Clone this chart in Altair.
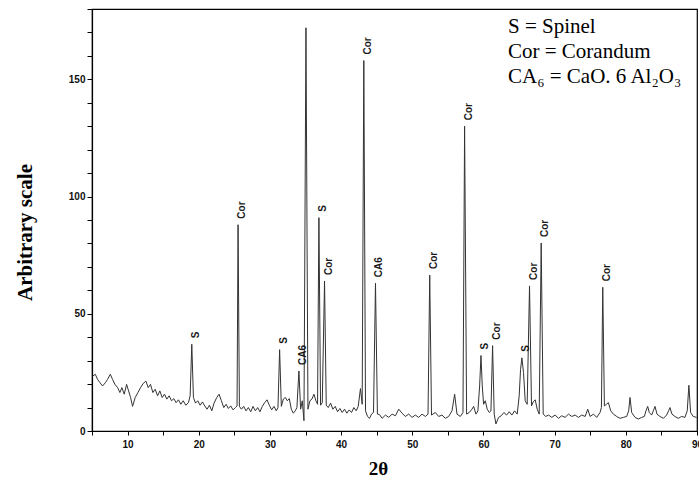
import altair as alt
import pandas as pd

# ---- XRD trace (2theta, intensity) ----
two_theta = [
    5.09, 5.46, 5.79, 6.12, 6.49, 6.87, 7.19, 7.57, 7.89, 8.22, 8.60, 8.92, 9.20, 9.53, 9.86,
    10.14, 10.42, 10.70, 11.07, 11.45, 11.82, 12.20, 12.57, 12.90, 13.22, 13.55, 13.88, 14.21,
    14.53, 14.86, 15.19, 15.51, 15.84, 16.17, 16.50, 16.82, 17.15, 17.48, 17.81, 18.18, 18.55,
    18.79, 19.02, 19.25, 19.54, 19.86, 20.19, 20.52, 20.84, 21.17, 21.50, 21.83, 22.15, 22.53,
    22.85, 23.18, 23.51, 23.84, 24.16, 24.49, 24.82, 25.15, 25.38, 25.52, 25.71, 25.99, 26.31,
    26.64, 26.97, 27.30, 27.62, 27.95, 28.28, 28.60, 28.93, 29.26, 29.59, 29.91, 30.24, 30.57,
    30.89, 31.13, 31.36, 31.60, 31.88, 32.16, 32.44, 32.72, 33.00, 33.28, 33.56, 33.79, 34.07,
    34.31, 34.54, 34.78, 35.06, 35.34, 35.62, 35.90, 36.18, 36.46, 36.69, 36.88, 37.11, 37.35,
    37.67, 37.91, 38.19, 38.52, 38.84, 39.17, 39.50, 39.83, 40.15, 40.48, 40.81, 41.13, 41.46,
    41.79, 42.12, 42.40, 42.72, 42.96, 43.19, 43.43, 43.71, 43.99, 44.27, 44.55, 44.83,
    45.10, 45.40, 45.76, 46.23, 46.69, 47.16, 47.63, 48.10, 48.56, 49.03, 49.50, 49.97, 50.43,
    50.90, 51.37, 51.84, 52.21, 52.45, 52.70, 53.24, 53.71, 54.17, 54.64, 55.11, 55.58, 55.95,
    56.28, 56.75, 57.12, 57.35, 57.63, 58.01, 58.38, 58.62, 58.94, 59.22, 59.46, 59.65, 59.83,
    60.02, 60.25, 60.53, 60.81, 61.05, 61.28, 61.51, 61.75, 62.12, 62.50, 62.87, 63.25, 63.62,
    63.99, 64.37, 64.74, 65.02, 65.21, 65.40, 65.63, 65.86, 66.14, 66.47, 66.75, 66.98, 67.27,
    67.55, 67.83, 68.11, 68.39, 68.76, 69.14, 69.60, 70.07, 70.54, 71.00, 71.47, 71.94, 72.41,
    72.88, 73.34, 73.81, 74.28, 74.65, 74.98, 75.45, 75.91, 76.38, 76.57, 76.76, 76.99, 77.27,
    77.55, 77.88, 78.25, 78.72, 79.19, 79.65, 80.12, 80.40, 80.59, 80.82, 81.29, 81.76, 82.23,
    82.60, 82.83, 83.07, 83.30, 83.63, 83.86, 84.10, 84.38, 84.80, 85.27, 85.73, 86.01, 86.20,
    86.48, 86.90, 87.37, 87.84, 88.30, 88.63, 88.86, 89.10, 89.47, 89.94,
]
intensity = [
    23.4, 24.2, 22.0, 20.6, 19.2, 20.6, 22.0, 24.2, 22.0, 19.9, 18.5, 16.4, 18.5, 15.7, 19.9,
    17.1, 14.3, 10.5, 14.3, 16.4, 18.5, 20.3, 21.3, 18.5, 19.9, 16.4, 17.8, 15.0,
    17.1, 14.3, 15.7, 13.6, 15.0, 12.9, 13.8, 12.1, 13.3, 11.4, 12.9, 11.0, 12.1,
    15.0, 37.0, 14.3, 11.9, 12.9, 11.0, 12.4, 10.7, 9.3, 11.0, 8.6, 11.9, 14.3,
    15.7, 12.9, 10.0, 11.4, 9.6, 10.7, 9.0, 10.0, 10.7, 88.0, 10.5, 9.3, 10.5,
    8.6, 10.0, 8.2, 10.5, 8.6, 10.0, 8.2, 10.5, 12.1, 13.3, 11.0, 9.0, 10.5,
    8.6, 10.0, 34.7, 10.5, 13.6, 14.3, 12.9, 13.8, 9.3, 7.6, 8.6, 10.0, 25.6,
    9.3, 12.9, 4.4, 172.0, 9.3, 12.9, 13.6, 15.7, 12.9, 11.4, 91.0, 11.0, 12.1,
    64.0, 11.0, 10.0, 11.9, 9.3, 10.5, 8.2, 9.6, 7.9, 9.3, 7.6, 9.0, 7.9,
    10.0, 8.6, 10.5, 18.1, 11.4, 158.0, 8.6, 6.2, 5.4, 7.2, 7.9, 63.0,
    7.2, 7.0, 5.4, 6.8, 5.8, 7.2, 6.5, 9.3, 7.6, 6.2, 7.2, 5.8, 6.8,
    5.8, 7.2, 6.2, 7.2, 66.5, 6.8, 7.9, 6.2, 6.8, 5.4, 6.2, 8.6, 15.7,
    7.2, 6.2, 7.9, 130.0, 7.2, 7.9, 9.3, 10.5, 7.2, 8.6, 19.2, 32.2, 19.2,
    11.4, 12.9, 9.3, 7.9, 8.6, 36.4, 7.2, 3.0, 5.8, 6.5, 7.9, 6.8, 8.2,
    6.8, 8.6, 7.2, 15.0, 26.3, 31.2, 24.9, 12.9, 11.4, 61.9, 10.7, 12.4, 13.3,
    9.3, 7.2, 80.2, 7.2, 6.2, 6.8, 5.8, 6.8, 5.4, 6.5, 5.8, 7.2, 6.2,
    6.8, 5.8, 6.8, 6.2, 9.3, 6.2, 7.2, 5.8, 7.9, 10.0, 61.3, 10.7, 11.4,
    12.1, 8.6, 7.2, 6.2, 5.4, 5.8, 6.2, 8.6, 14.3, 7.9, 5.8, 5.1, 5.8,
    6.2, 8.6, 10.5, 7.9, 6.8, 8.6, 10.5, 7.2, 6.2, 5.4, 6.8, 8.6, 10.0,
    7.2, 6.2, 5.4, 6.2, 5.8, 8.6, 19.5, 7.9, 6.2, 5.8,
]

# ---- peak annotations ----
peak_pos = [19.02, 25.52, 31.36, 34.07, 36.88, 37.67, 43.19, 44.83, 52.45, 57.35,
            59.65, 61.28, 65.40, 66.47, 68.11, 76.76]
peak_height = [37.0, 88.0, 34.7, 25.6, 91.0, 64.0, 158.0, 63.0, 66.5, 130.0,
               32.2, 36.4, 31.2, 61.9, 80.2, 61.3]
peak_label = ["S", "Cor", "S", "CA6", "S", "Cor", "Cor", "CA6", "Cor", "Cor",
              "S", "Cor", "S", "Cor", "Cor", "Cor"]

legend_lines = ["S = Spinel", "Cor = Corandum", "CA\u2086 = CaO. 6 Al\u2082O\u2083"]

x_ticks = list(range(5, 91, 5))
y_ticks = list(range(0, 181, 10))

trace = pd.DataFrame({"t": two_theta, "i": intensity})
peaks = pd.DataFrame({"t": peak_pos, "h": peak_height, "lab": peak_label})

xscale = alt.Scale(domain=[5, 90], nice=False, zero=False)
yscale = alt.Scale(domain=[0, 180], nice=False)

x_axis = alt.Axis(
    values=x_ticks,
    labelExpr="datum.value % 10 === 0 ? datum.label : ''",
    title="2θ", titleFont="Liberation Serif", titleFontSize=19, titleFontWeight="bold",
    titleColor="black", titleX=286, titleY=37, titleBaseline="middle", titleAlign="center",
    grid=False, tickSize=4, tickColor="black", domainColor="black", domainWidth=1.2,
    labelFont="Liberation Sans", labelFontSize=10, labelFontWeight="bold", labelColor="#111",
    labelPadding=4, labelOverlap=False, labelFlush=False,
)
y_axis = alt.Axis(
    values=y_ticks,
    labelExpr="datum.value % 50 === 0 ? datum.label : ''",
    title="Arbitrary scale", titleFont="Liberation Serif", titleFontSize=21, titleFontWeight="bold",
    titleColor="black", titleX=-67, titleY=223, titleAngle=270, titleBaseline="middle",
    titleAlign="center",
    grid=False, tickSize=5, tickColor="black", domainColor="black", domainWidth=1.2,
    labelFont="Liberation Sans", labelFontSize=10, labelFontWeight="bold", labelColor="#111",
    labelPadding=2, labelOverlap=False, labelFlush=False,
)

line = alt.Chart(trace).mark_line(color="#333333", strokeWidth=1, clip=True).encode(
    x=alt.X("t:Q", scale=xscale, axis=x_axis),
    y=alt.Y("i:Q", scale=yscale, axis=y_axis),
)

labels = alt.Chart(peaks).mark_text(
    angle=270, align="left", baseline="middle", font="Liberation Sans", fontSize=10,
    fontWeight="bold", color="#1a1a1a", dx=6, dy=4,
).encode(
    x=alt.X("t:Q", scale=xscale, axis=x_axis),
    y=alt.Y("h:Q", scale=yscale, axis=y_axis),
    text="lab:N",
)

legend_layers = []
for k, txt in enumerate(legend_lines):
    legend_layers.append(
        alt.Chart(pd.DataFrame({"txt": [txt]})).mark_text(
            align="left", baseline="middle", font="Liberation Serif", fontSize=21, color="black",
        ).encode(x=alt.value(416), y=alt.value(18 + 25 * k), text="txt:N")
    )

chart = alt.layer(line, labels, *legend_layers).properties(
    width=605, height=422,
    padding={"left": 92, "top": 9, "right": 2, "bottom": 50},
    autosize="none",
).configure(background="white").configure_view(
    stroke="black", strokeWidth=1.2
).configure_axis(labelOverlap=False)

chart.save("out.html", embed_options={"renderer": "svg", "actions": False})
